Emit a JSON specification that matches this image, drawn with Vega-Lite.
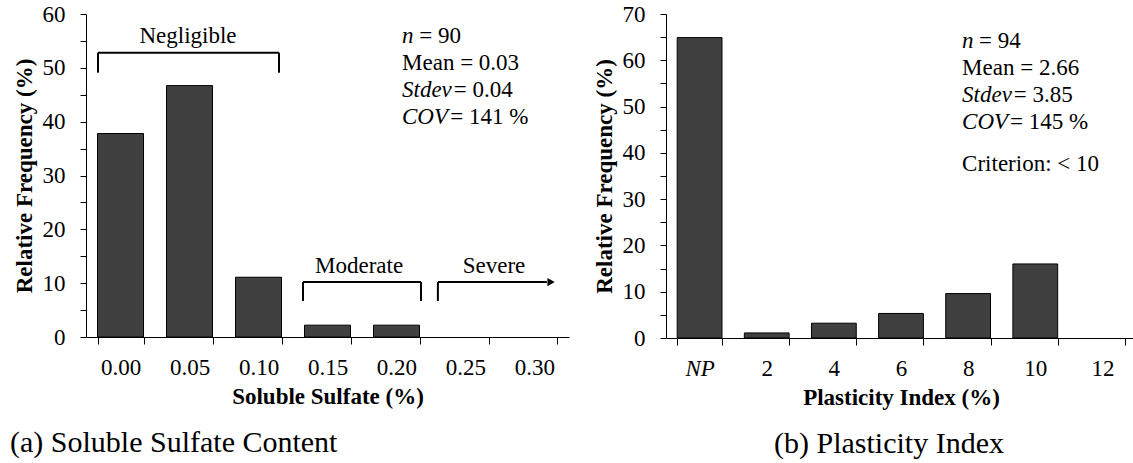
{
  "$schema": "https://vega.github.io/schema/vega-lite/v6.json",
  "padding": {"left": 10, "top": 3, "right": 0, "bottom": 0},
  "background": "white",
  "spacing": 24,
  "config": {
    "font": "Liberation Serif",
    "view": {"stroke": null},
    "axis": {"labelFont": "Liberation Serif", "titleFont": "Liberation Serif", "labelFontSize": 23, "titleFontSize": 23, "titleFontWeight": "bold", "labelColor": "black", "titleColor": "black", "domainColor": "black", "tickColor": "black", "grid": false},
    "title": {"font": "Liberation Serif", "fontSize": 30, "fontWeight": "normal", "color": "black"},
    "text": {"font": "Liberation Serif", "fontSize": 23, "color": "black", "baseline": "middle"}
  },
  "hconcat": [
    {
      "width": 483, "height": 323,
      "title": {"text": "(a) Soluble Sulfate Content", "orient": "bottom", "anchor": "start", "frame": "bounds", "offset": 20, "dx": -3},
      "resolve": {"scale": {"x": "independent"}, "axis": {"y": "independent"}},
      "layer": [
        {
          "data": {"values": [
            {"sulfate": "0.00", "pct": 37.8},
            {"sulfate": "0.05", "pct": 46.7},
            {"sulfate": "0.10", "pct": 11.1},
            {"sulfate": "0.15", "pct": 2.2},
            {"sulfate": "0.20", "pct": 2.2}
          ]},
          "mark": {"type": "bar", "color": "#404040", "stroke": "black", "strokeWidth": 1},
          "encoding": {
            "x": {"field": "sulfate", "type": "ordinal", "sort": null,
                  "scale": {"domain": ["0.00", "0.05", "0.10", "0.15", "0.20", "0.25", "0.30"], "paddingInner": 0.333, "paddingOuter": 0.1667},
                  "axis": {"title": "Soluble Sulfate (%)", "labelAngle": 0, "tickBand": "extent", "tickSize": 7, "labelPadding": 12, "titlePadding": 6}},
            "y": {"field": "pct", "type": "quantitative", "scale": {"domain": [0, 60]},
                  "axis": {"title": "Relative Frequency (%)", "values": [0, 5, 10, 15, 20, 25, 30, 35, 40, 45, 50, 55, 60], "labelExpr": "datum.value % 10 === 0 ? datum.label : ''", "tickSize": 6, "labelPadding": 15, "titlePadding": 6}}
          }
        },
        {
          "mark": {"type": "rule", "color": "#808080", "strokeWidth": 1},
          "encoding": {"y": {"datum": 60, "type": "quantitative", "scale": {"domain": [0, 60]}, "axis": null}}
        },
        {
          "data": {"values": [
            {"x1": 0.174, "x2": 2.797, "y1": 52.8, "y2": 52.8},
            {"x1": 0.174, "x2": 0.174, "y1": 52.8, "y2": 49.1},
            {"x1": 2.797, "x2": 2.797, "y1": 52.8, "y2": 49.1},
            {"x1": 3.145, "x2": 4.855, "y1": 10.2, "y2": 10.2},
            {"x1": 3.145, "x2": 3.145, "y1": 10.2, "y2": 6.7},
            {"x1": 4.855, "x2": 4.855, "y1": 10.2, "y2": 6.7},
            {"x1": 5.1, "x2": 5.1, "y1": 10.2, "y2": 6.7},
            {"x1": 5.1, "x2": 6.68, "y1": 10.2, "y2": 10.2}
          ]},
          "mark": {"type": "rule", "color": "black", "strokeWidth": 2},
          "encoding": {
            "x": {"field": "x1", "type": "quantitative", "scale": {"domain": [0, 7], "nice": false, "zero": false}, "axis": null},
            "x2": {"field": "x2"},
            "y": {"field": "y1", "type": "quantitative", "scale": {"domain": [0, 60]}, "axis": null},
            "y2": {"field": "y2"}
          }
        },
        {
          "data": {"values": [{"x": 6.74, "y": 10.2}]},
          "mark": {"type": "point", "shape": "triangle-right", "filled": true, "color": "black", "size": 70, "opacity": 1},
          "encoding": {
            "x": {"field": "x", "type": "quantitative", "scale": {"domain": [0, 7], "nice": false, "zero": false}, "axis": null},
            "y": {"field": "y", "type": "quantitative", "scale": {"domain": [0, 60]}, "axis": null}
          }
        },
        {
          "data": {"values": [
            {"x": 1.478, "y": 56.0, "label": "Negligible"},
            {"x": 3.957, "y": 13.2, "label": "Moderate"},
            {"x": 5.913, "y": 13.2, "label": "Severe"}
          ]},
          "mark": {"type": "text", "align": "center"},
          "encoding": {
            "x": {"field": "x", "type": "quantitative", "scale": {"domain": [0, 7], "nice": false, "zero": false}, "axis": null},
            "y": {"field": "y", "type": "quantitative", "scale": {"domain": [0, 60]}, "axis": null},
            "text": {"field": "label"}
          }
        },
        {
          "data": {"values": [
            {"x": 4.58, "y": 55.9, "label": "n"},
            {"x": 4.58, "y": 45.8, "label": "Stdev"},
            {"x": 4.58, "y": 40.8, "label": "COV"}
          ]},
          "mark": {"type": "text", "align": "left", "fontStyle": "italic"},
          "encoding": {
            "x": {"field": "x", "type": "quantitative", "scale": {"domain": [0, 7], "nice": false, "zero": false}, "axis": null},
            "y": {"field": "y", "type": "quantitative", "scale": {"domain": [0, 60]}, "axis": null},
            "text": {"field": "label"}
          }
        },
        {
          "data": {"values": [
            {"x": 4.83, "y": 55.9, "label": "= 90"},
            {"x": 4.58, "y": 50.9, "label": "Mean = 0.03"},
            {"x": 5.33, "y": 45.8, "label": "= 0.04"},
            {"x": 5.28, "y": 40.8, "label": "= 141 %"}
          ]},
          "mark": {"type": "text", "align": "left"},
          "encoding": {
            "x": {"field": "x", "type": "quantitative", "scale": {"domain": [0, 7], "nice": false, "zero": false}, "axis": null},
            "y": {"field": "y", "type": "quantitative", "scale": {"domain": [0, 60]}, "axis": null},
            "text": {"field": "label"}
          }
        }
      ]
    },
    {
      "width": 470, "height": 324,
      "title": {"text": "(b) Plasticity Index", "orient": "bottom", "anchor": "middle", "frame": "group", "offset": 20, "dx": -12},
      "resolve": {"scale": {"x": "independent"}, "axis": {"y": "independent"}},
      "layer": [
        {
          "data": {"values": [
            {"pi": "NP", "pct": 64.9},
            {"pi": "2", "pct": 1.1},
            {"pi": "4", "pct": 3.2},
            {"pi": "6", "pct": 5.3},
            {"pi": "8", "pct": 9.6},
            {"pi": "10", "pct": 16.0}
          ]},
          "mark": {"type": "bar", "color": "#404040", "stroke": "black", "strokeWidth": 1},
          "encoding": {
            "x": {"field": "pi", "type": "ordinal", "sort": null,
                  "scale": {"domain": ["NP", "2", "4", "6", "8", "10", "12"], "paddingInner": 0.333, "paddingOuter": 0.1667},
                  "axis": {"title": "Plasticity Index (%)", "labelAngle": 0, "tickBand": "extent", "tickSize": 7, "labelPadding": 12, "titlePadding": 6,
                           "labelFontStyle": {"condition": {"test": "datum.value === 'NP'", "value": "italic"}, "value": "normal"}}},
            "y": {"field": "pct", "type": "quantitative", "scale": {"domain": [0, 70]},
                  "axis": {"title": "Relative Frequency (%)", "values": [0, 5, 10, 15, 20, 25, 30, 35, 40, 45, 50, 55, 60, 65, 70], "labelExpr": "datum.value % 10 === 0 ? datum.label : ''", "tickSize": 6, "labelPadding": 15, "titlePadding": 6}}
          }
        },
        {
          "mark": {"type": "rule", "color": "#808080", "strokeWidth": 1},
          "encoding": {"y": {"datum": 70, "type": "quantitative", "scale": {"domain": [0, 70]}, "axis": null}}
        },
        {
          "data": {"values": [
            {"x": 4.41, "y": 64.2, "label": "n"},
            {"x": 4.41, "y": 52.6, "label": "Stdev"},
            {"x": 4.41, "y": 46.7, "label": "COV"}
          ]},
          "mark": {"type": "text", "align": "left", "fontStyle": "italic"},
          "encoding": {
            "x": {"field": "x", "type": "quantitative", "scale": {"domain": [0, 7], "nice": false, "zero": false}, "axis": null},
            "y": {"field": "y", "type": "quantitative", "scale": {"domain": [0, 70]}, "axis": null},
            "text": {"field": "label"}
          }
        },
        {
          "data": {"values": [
            {"x": 4.663, "y": 64.2, "label": "= 94"},
            {"x": 4.41, "y": 58.4, "label": "Mean = 2.66"},
            {"x": 5.18, "y": 52.6, "label": "= 3.85"},
            {"x": 5.125, "y": 46.7, "label": "= 145 %"},
            {"x": 4.41, "y": 37.6, "label": "Criterion: < 10"}
          ]},
          "mark": {"type": "text", "align": "left"},
          "encoding": {
            "x": {"field": "x", "type": "quantitative", "scale": {"domain": [0, 7], "nice": false, "zero": false}, "axis": null},
            "y": {"field": "y", "type": "quantitative", "scale": {"domain": [0, 70]}, "axis": null},
            "text": {"field": "label"}
          }
        }
      ]
    }
  ]
}
